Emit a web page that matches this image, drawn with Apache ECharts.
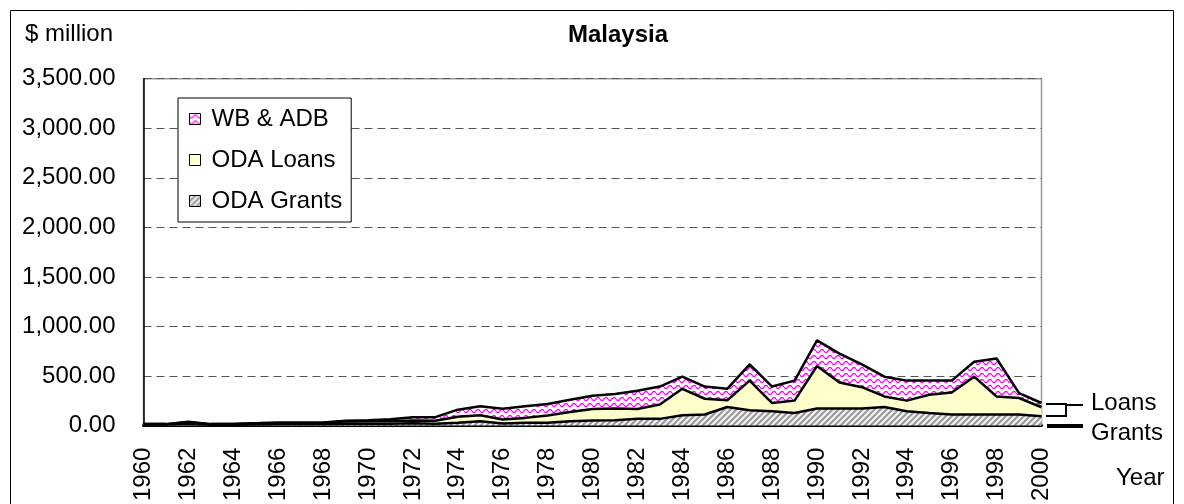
<!DOCTYPE html>
<html>
<head>
<meta charset="utf-8">
<title>Malaysia</title>
<script src="https://cdn.jsdelivr.net/npm/echarts@6/dist/echarts.min.js"></script>
<style>
  html, body { margin: 0; padding: 0; background: #fff; }
  #chart { width: 1184px; height: 504px; }
</style>
</head>
<body>
<div id="chart"></div>
<script>
const years = []
for (let y = 1960; y <= 2000; y++) years.push(String(y))

// $ million
const odaGrants = [10, 10, 20, 8, 8, 12, 15, 15, 15, 20, 20, 20, 25, 20, 30, 45, 22, 30, 30, 45,
  52, 55, 68, 68, 105, 112, 188, 155, 145, 128, 172, 172, 172, 188, 145, 128, 112, 112, 112, 112, 95]
const odaLoans = [5, 5, 15, 7, 7, 13, 13, 13, 15, 22, 25, 25, 27, 30, 60, 60, 40, 48, 72, 93,
  116, 117, 100, 144, 266, 159, 67, 299, 83, 124, 429, 262, 216, 106, 107, 183, 222, 382, 182, 166, 90]
const wbAdb = [0, 0, 5, 0, 0, 0, 2, 2, 2, 8, 10, 20, 33, 35, 71, 90, 109, 117, 116, 123,
  133, 146, 183, 182, 123, 123, 116, 163, 166, 202, 259, 293, 229, 200, 202, 143, 120, 150, 383, 50, 43]

const yMin = 0
const yMax = 3500
const yStep = 500

const font = '"Liberation Sans", Arial, sans-serif'

// fill patterns
const makeWave = () => {
  const c = document.createElement('canvas')
  c.width = 8
  c.height = 6
  const ctx = c.getContext('2d')
  ctx.fillStyle = '#fff'
  ctx.fillRect(0, 0, 8, 6)
  ctx.strokeStyle = '#ff00ff'
  ctx.lineWidth = 1.3
  ctx.beginPath()
  for (let x = 0; x <= 8; x += 0.5) {
    const y = 3 + 1.6 * Math.sin(Math.PI * 2 * x / 8)
    if (x === 0) ctx.moveTo(x, y)
    else ctx.lineTo(x, y)
  }
  ctx.stroke()
  return c
}
const makeHatch = () => {
  const c = document.createElement('canvas')
  c.width = 6
  c.height = 6
  const ctx = c.getContext('2d')
  ctx.fillStyle = '#f2f2f2'
  ctx.fillRect(0, 0, 6, 6)
  ctx.strokeStyle = '#999'
  ctx.lineWidth = 2
  ctx.beginPath()
  ctx.moveTo(-1, 7); ctx.lineTo(7, -1)
  ctx.moveTo(-4, 4); ctx.lineTo(4, -4)
  ctx.moveTo(2, 10); ctx.lineTo(10, 2)
  ctx.stroke()
  return c
}
const wavePattern = { image: makeWave(), repeat: 'repeat' }
const hatchPattern = { image: makeHatch(), repeat: 'repeat' }
const loansColor = '#ffffcc'

const chart = echarts.init(document.getElementById('chart'), null, { renderer: 'canvas' })

const areaSeries = (name, data, fill) => ({
  name,
  type: 'line',
  stack: 'total',
  data,
  symbol: 'none',
  smooth: false,
  lineStyle: { color: '#000', width: 2.5 },
  itemStyle: { color: fill, borderColor: '#000', borderWidth: 1 },
  areaStyle: { color: fill, opacity: 1 },
  emphasis: { disabled: true },
  animation: false
})

chart.setOption({
  backgroundColor: '#fff',
  textStyle: { fontFamily: font },
  title: {
    text: 'Malaysia',
    left: 613,
    top: 18,
    textAlign: 'center',
    textStyle: { fontFamily: font, fontSize: 24, fontWeight: 'bold', color: '#000' }
  },
  grid: {
    left: 143.5,
    right: 142.5,
    top: 78.7,
    bottom: 74.5,
    show: true,
    borderColor: '#999',
    borderWidth: 1.5,
    backgroundColor: 'transparent'
  },
  legend: {
    orient: 'vertical',
    left: 178,
    top: 98,
    padding: [8, 9, 8, 11],
    itemGap: 15,
    itemWidth: 11,
    itemHeight: 11,
    borderColor: '#000',
    borderWidth: 1,
    backgroundColor: '#fff',
    selectedMode: false,
    icon: 'rect',
    textStyle: { fontFamily: font, fontSize: 24, color: '#000', lineHeight: 26, padding: [0, 0, 0, 6] },
    data: [
      { name: 'WB & ADB', itemStyle: { color: wavePattern, borderColor: '#000', borderWidth: 1 } },
      { name: 'ODA Loans', itemStyle: { color: loansColor, borderColor: '#000', borderWidth: 1 } },
      { name: 'ODA Grants', itemStyle: { color: hatchPattern, borderColor: '#000', borderWidth: 1 } }
    ]
  },
  xAxis: {
    type: 'category',
    data: years,
    boundaryGap: false,
    axisLine: { show: true, lineStyle: { color: '#000', width: 3 } },
    axisTick: { show: false },
    axisLabel: {
      interval: 1,
      rotate: 90,
      margin: 22,
      fontFamily: font,
      fontSize: 24,
      color: '#000'
    },
    splitLine: { show: false }
  },
  yAxis: {
    type: 'value',
    min: yMin,
    max: yMax,
    interval: yStep,
    axisLine: { show: true, lineStyle: { color: '#000', width: 1.5 } },
    axisTick: { show: false },
    axisLabel: {
      margin: 28,
      fontFamily: font,
      fontSize: 24,
      color: '#000',
      padding: [0, 0, 4, 0],
      formatter: v => v.toLocaleString('en-US', { minimumFractionDigits: 2, maximumFractionDigits: 2 })
    },
    splitLine: { show: true, lineStyle: { color: '#555', type: [8, 5], width: 1.2 } }
  },
  series: [
    areaSeries('ODA Grants', odaGrants, hatchPattern),
    areaSeries('ODA Loans', odaLoans, loansColor),
    areaSeries('WB & ADB', wbAdb, wavePattern)
  ],
  graphic: [
    // chart border
    { type: 'rect', shape: { x: 10.5, y: 10.5, width: 1163, height: 520 }, style: { fill: 'none', stroke: '#000', lineWidth: 1 }, silent: true },
    { type: 'text', left: 25, top: 22, style: { text: '$ million', font: '24px ' + font, fill: '#000' } },
    // right-hand key
    { type: 'polyline', shape: { points: [[1046, 404], [1066, 404], [1066, 416], [1046, 416]] }, style: { stroke: '#000', lineWidth: 2, fill: 'none' } },
    { type: 'line', shape: { x1: 1066, y1: 405, x2: 1083, y2: 405 }, style: { stroke: '#000', lineWidth: 2 } },
    { type: 'line', shape: { x1: 1047, y1: 426, x2: 1083, y2: 426 }, style: { stroke: '#000', lineWidth: 4 } },
    { type: 'text', x: 1091, y: 403, style: { text: 'Loans', font: '24px ' + font, fill: '#000', textVerticalAlign: 'middle' } },
    { type: 'text', x: 1091, y: 433, style: { text: 'Grants', font: '24px ' + font, fill: '#000', textVerticalAlign: 'middle' } },
    { type: 'text', x: 1116, y: 478, style: { text: 'Year', font: '24px ' + font, fill: '#000', textVerticalAlign: 'middle' } }
  ]
})

window.addEventListener('resize', () => {
  chart.resize()
})
</script>
</body>
</html>
